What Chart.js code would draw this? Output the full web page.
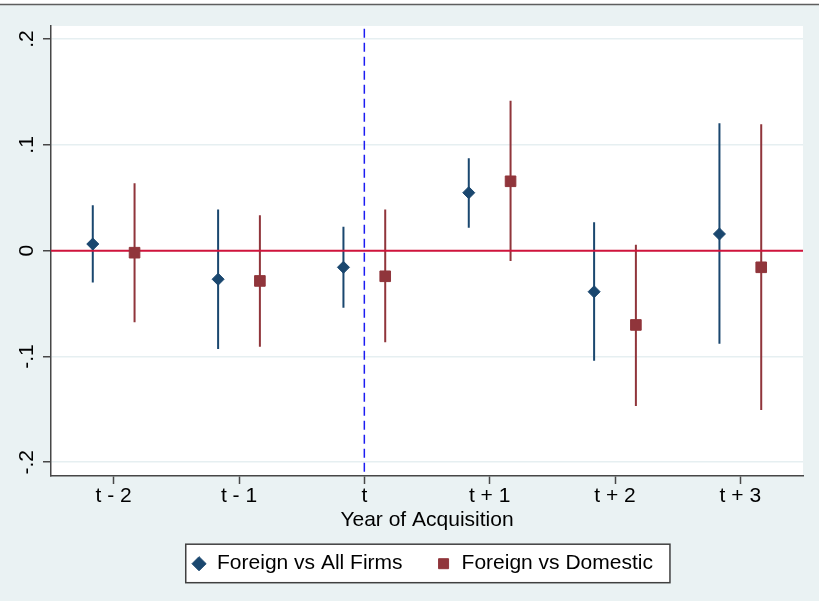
<!DOCTYPE html>
<html>
<head>
<meta charset="utf-8">
<script src="https://cdn.jsdelivr.net/npm/chart.js@4.4.1/dist/chart.umd.min.js"></script>
<style>
  html, body { margin: 0; padding: 0; background: #eaf2f3; }
  canvas { display: block; }
</style>
</head>
<body>
<canvas id="c" width="819" height="601"></canvas>
<script>
// ---- data ----
const categories = ['t - 2', 't - 1', 't', 't + 1', 't + 2', 't + 3'];
const seriesNames = ['Foreign vs All Firms', 'Foreign vs Domestic'];

const allFirmsCoef = [0.0063, -0.0270, -0.0157, 0.0548, -0.0388, 0.0158];
const allFirmsLow  = [-0.0300, -0.0930, -0.0540, 0.0217, -0.1040, -0.0880];
const allFirmsHigh = [0.0430, 0.0390, 0.0227, 0.0873, 0.0268, 0.1204];

const domesticCoef = [-0.0019, -0.0286, -0.0242, 0.0656, -0.0702, -0.0157];
const domesticLow  = [-0.0677, -0.0907, -0.0866, -0.0097, -0.1468, -0.1506];
const domesticHigh = [0.0637, 0.0335, 0.0390, 0.1418, 0.0057, 0.1195];

const yTickValues = [-0.2, -0.1, 0, 0.1, 0.2];
const yTickLabels = ['-.2', '-.1', '0', '.1', '.2'];
const acquisitionIndex = 2;     // vertical dashed line at "t"
const referenceValue = 0;       // horizontal reference line
const seriesShift = [-1 / 6, 1 / 6];  // side-by-side placement within a category

// ---- styling ----
const BLUE = '#1a476f';
const RED = '#90353b';
const ZERO_RED = '#d0143c';
const DASH_BLUE = '#1c1cf2';
const AXIS = '#474747';
const GRID = '#e6eff1';
const FONT = { family: '"Liberation Sans", Arial, sans-serif', size: 21 };
const LEGEND_PAD = 33.5;

const xMin = -0.5, xMax = categories.length - 0.5;
const yMin = -0.2130, yMax = 0.2124;

function points(vals, shift) {
  return vals.map((v, i) => ({ x: i + shift, y: v }));
}
function bars(low, high, shift) {
  const out = [];
  low.forEach((lo, i) => {
    out.push({ x: i + shift, y: lo });
    out.push({ x: i + shift, y: high[i] });
    out.push({ x: i + shift, y: null });
  });
  return out;
}

const backgroundPlugin = {
  id: 'stataBackground',
  afterLayout(chart) {
    const lg = chart.legend;
    if (lg) { lg.left -= 4.75; lg.right -= 4.75; }
  },
  beforeDraw(chart) {
    const { ctx, chartArea: a, width, height } = chart;
    ctx.save();
    ctx.fillStyle = '#eaf2f3';
    ctx.fillRect(0, 0, width, height);
    ctx.fillStyle = '#ffffff';
    ctx.fillRect(0, 0, width, 4);
    ctx.strokeStyle = '#5e5e5e';
    ctx.lineWidth = 1.5;
    ctx.beginPath();
    ctx.moveTo(0, 4.5);
    ctx.lineTo(width, 4.5);
    ctx.stroke();
    ctx.fillStyle = '#ffffff';
    ctx.fillRect(a.left, a.top, a.right - a.left, a.bottom - a.top);
    // legend frame
    const lg = chart.legend;
    if (lg && lg.lineWidths) {
      const lw = lg.lineWidths[0];
      const xs = (lg.left + LEGEND_PAD + lg.right - lw) / 2;
      const l = xs - 5.8;
      const r = xs + lw - LEGEND_PAD + 17;
      const t = lg.top + LEGEND_PAD - 9;
      const b = lg.top + LEGEND_PAD + 29.5;
      ctx.fillStyle = '#ffffff';
      ctx.fillRect(l, t, r - l, b - t);
      ctx.strokeStyle = '#404040';
      ctx.lineWidth = 1.5;
      ctx.strokeRect(l, t, r - l, b - t);
    }
    ctx.restore();
  }
};

new Chart(document.getElementById('c'), {
  type: 'scatter',
  data: {
    datasets: [
      {
        label: seriesNames[0],
        data: points(allFirmsCoef, seriesShift[0]),
        pointStyle: 'rectRot', pointRadius: 6,
        backgroundColor: BLUE, borderColor: BLUE, borderWidth: 1,
        showLine: false
      },
      {
        label: seriesNames[1],
        data: points(domesticCoef, seriesShift[1]),
        pointStyle: 'rect', pointRadius: 7.5,
        backgroundColor: RED, borderColor: RED, borderWidth: 1,
        showLine: false
      },
      {
        label: 'acquisition',
        data: [{ x: acquisitionIndex, y: -0.209 }, { x: acquisitionIndex, y: 0.211 }],
        showLine: true, pointRadius: 0, borderColor: DASH_BLUE, borderWidth: 1.5,
        borderDash: [9, 5]
      },
      {
        label: 'zero',
        data: [{ x: xMin, y: referenceValue }, { x: xMax, y: referenceValue }],
        showLine: true, pointRadius: 0, borderColor: ZERO_RED, borderWidth: 2
      },
      {
        label: 'ci1',
        data: bars(allFirmsLow, allFirmsHigh, seriesShift[0]),
        showLine: true, spanGaps: false, pointRadius: 0, borderColor: BLUE, borderWidth: 2
      },
      {
        label: 'ci2',
        data: bars(domesticLow, domesticHigh, seriesShift[1]),
        showLine: true, spanGaps: false, pointRadius: 0, borderColor: RED, borderWidth: 2
      }
    ]
  },
  options: {
    responsive: false,
    devicePixelRatio: 1,
    animation: false,
    events: [],
    layout: { padding: { top: 26, right: 16, bottom: 16.8, left: 0 } },
    scales: {
      x: {
        type: 'linear', min: xMin, max: xMax,
        afterBuildTicks(scale) { scale.ticks = categories.map((_, i) => ({ value: i })); },
        afterFit(scale) { scale.height = 43.7; },
        ticks: {
          callback: (v) => categories[v],
          font: FONT, color: '#000', padding: 0, maxRotation: 0, autoSkip: false
        },
        grid: { display: true, drawOnChartArea: false, drawTicks: true, tickLength: 8, tickColor: AXIS, tickWidth: 1.5 },
        border: { display: true, color: AXIS, width: 1.5 },
        title: { display: true, text: 'Year of Acquisition', font: FONT, color: '#000', padding: { top: 0, bottom: -13.3 } }
      },
      y: {
        type: 'linear', min: yMin, max: yMax,
        afterBuildTicks(scale) { scale.ticks = yTickValues.map(v => ({ value: v })); },
        afterFit(scale) { scale.width = 51; },
        ticks: {
          callback: (v, i) => yTickLabels[i],
          font: FONT, color: '#000', padding: 4,
          minRotation: 90, maxRotation: 90, crossAlign: 'center'
        },
        grid: { display: true, color: GRID, lineWidth: 1.5, drawTicks: true, tickLength: 8, tickColor: AXIS, tickWidth: 1.5 },
        border: { display: true, color: AXIS, width: 1.5 }
      }
    },
    plugins: {
      tooltip: { enabled: false },
      legend: {
        display: true,
        position: 'bottom',
        fullSize: false,
        labels: {
          filter: (item) => item.datasetIndex < 2,
          usePointStyle: true,
          boxWidth: 15, boxHeight: 10,
          padding: LEGEND_PAD,
          font: FONT, color: '#000'
        }
      }
    }
  },
  plugins: [backgroundPlugin]
});
</script>
</body>
</html>
